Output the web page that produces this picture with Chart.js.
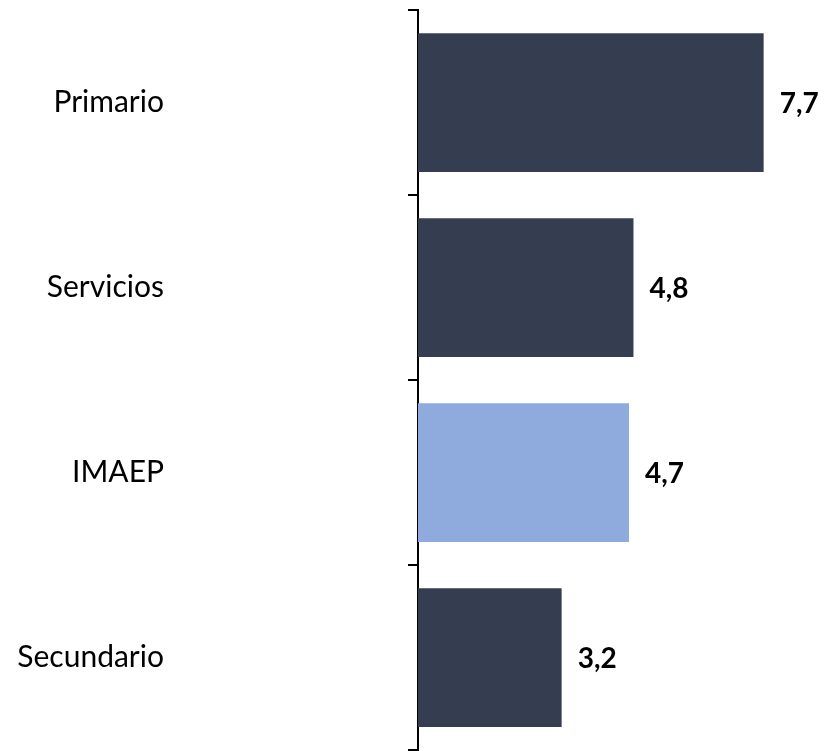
<!DOCTYPE html>
<html lang="es">
<head>
    <meta charset="UTF-8">
    <title>Variación por sector</title>
    <script src="https://cdn.jsdelivr.net/npm/chart.js"></script>
    <style>
        html, body { margin: 0; padding: 0; background: #fff; }
        .grafico { width: 828px; height: 751px; }
    </style>
</head>
<body>
    <div class="grafico">
        <canvas id="graficoSectores"></canvas>
    </div>
<script>
    var sectores = ['Primario', 'Servicios', 'IMAEP', 'Secundario']
    var variacion = [7.7, 4.8, 4.7, 3.2]
    var coresBarras = ['#343e50', '#343e50', '#8faadc', '#343e50']

    // escribe el valor de cada barra a su derecha, con coma decimal
    const etiquetasValor = {
        id: 'etiquetasValor',
        afterDatasetsDraw(chart) {
            const c = chart.ctx
            const meta = chart.getDatasetMeta(0)
            c.save()
            c.font = 'bold 28px Lato'
            c.fillStyle = '#000'
            c.textBaseline = 'middle'
            meta.data.forEach((barra, i) => {
                var texto = variacion[i].toFixed(1).replace('.', ',')
                c.fillText(texto, barra.x + 16, barra.y + 1)
            })
            c.restore()
        }
    }

    const ctx = document.getElementById('graficoSectores')

    new Chart(ctx, {
        type: 'bar',
        data: {
            labels: sectores,
            datasets: [{
                data: variacion,
                backgroundColor: coresBarras,
                barPercentage: 0.75,
                categoryPercentage: 1
            }]
        },
        options: {
            indexAxis: 'y',
            responsive: true,
            maintainAspectRatio: false,
            animation: false,
            layout: { padding: { top: 10, bottom: 1, right: 6, left: 0 } },
            plugins: {
                legend: { display: false },
                tooltip: { enabled: false }
            },
            scales: {
                x: {
                    display: false,
                    min: 0,
                    max: 9
                },
                y: {
                    afterFit: function (escala) {
                        // ancho fijo; el padding grande de los ticks no debe encoger el alto
                        escala.width = 418
                        escala.paddingTop = 0
                        escala.paddingBottom = 0
                    },
                    border: { display: true, color: '#000', width: 2 },
                    grid: {
                        drawOnChartArea: false,
                        drawTicks: true,
                        tickLength: 10,
                        color: '#000',
                        lineWidth: 2
                    },
                    ticks: {
                        color: '#000',
                        padding: 244,
                        font: { family: 'Lato', size: 30 }
                    }
                }
            }
        },
        plugins: [etiquetasValor]
    })
</script>
</body>
</html>
